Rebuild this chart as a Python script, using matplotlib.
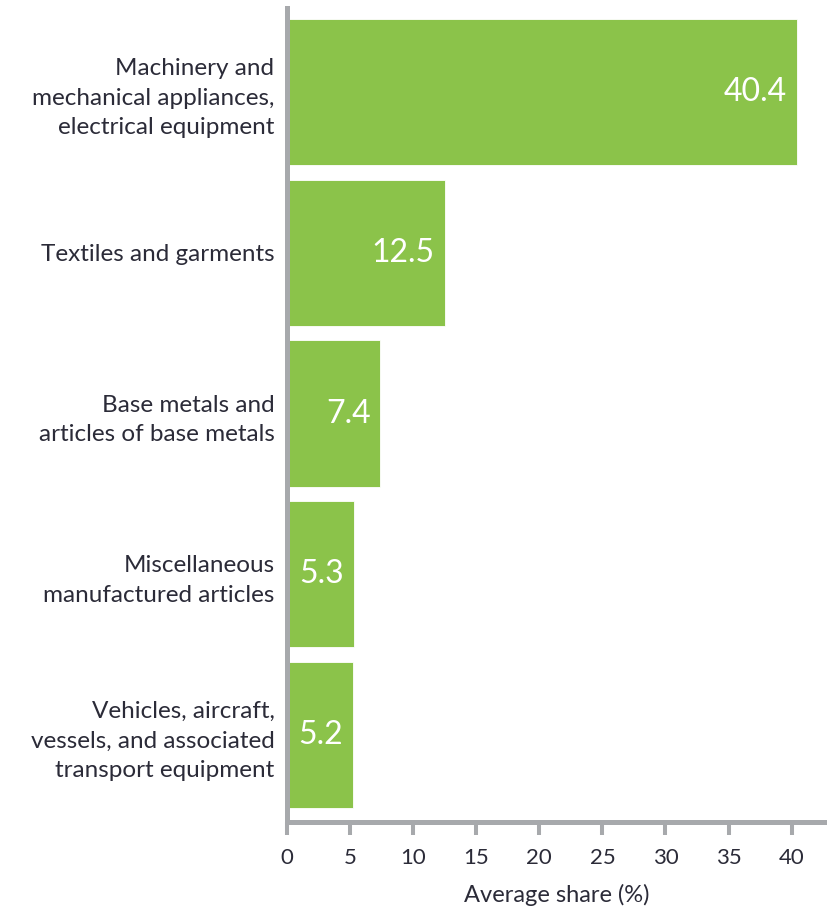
import matplotlib
matplotlib.use("Agg")
import matplotlib.pyplot as plt

# average share of exports by product group (%)
categories = [
    "Machinery and\nmechanical appliances,\nelectrical equipment",
    "Textiles and garments",
    "Base metals and\narticles of base metals",
    "Miscellaneous\nmanufactured articles",
    "Vehicles, aircraft,\nvessels, and associated\ntransport equipment",
]
shares = [40.4, 12.5, 7.4, 5.3, 5.2]
xticks = [0, 5, 10, 15, 20, 25, 30, 35, 40]

bar_color = "#8BC34A"
axis_gray = "#A7A9AC"
text_color = "#2B2B38"

plt.rcParams["font.family"] = ["Lato", "DejaVu Sans"]

fig = plt.figure(figsize=(8.27, 9.10), dpi=100)
ax = fig.add_axes([0.347, 0.0967, 0.653, 0.8945])

pos = list(range(len(categories)))
ax.barh(pos, shares, height=0.91, color=bar_color, edgecolor="white", linewidth=0.6, zorder=2)

for p, v in zip(pos, shares):
    ax.annotate(f"{v:.1f}", xy=(v, p), xytext=(-7, 0), textcoords="offset points",
                ha="right", va="center", color="white", fontsize=23)

ax.set_ylim(4.541, -0.523)
ax.set_xlim(0, 42.8)
ax.set_yticks(pos)
ax.set_yticklabels(categories, fontsize=17.5, color=text_color, linespacing=1.5)
ax.set_xticks(xticks)
ax.set_xticklabels([str(t) for t in xticks], fontsize=16, color=text_color)
ax.set_xlabel("Average share (%)", fontsize=17, color=text_color, labelpad=11)

for s in ["top", "right"]:
    ax.spines[s].set_visible(False)
for s in ["left", "bottom"]:
    ax.spines[s].set_color(axis_gray)
    ax.spines[s].set_linewidth(3.6)
    ax.spines[s].set_zorder(3)

ax.tick_params(axis="y", length=0, pad=9)
ax.tick_params(axis="x", length=9, width=2.9, color=axis_gray, pad=10)

fig.savefig("out.png", dpi=100)
